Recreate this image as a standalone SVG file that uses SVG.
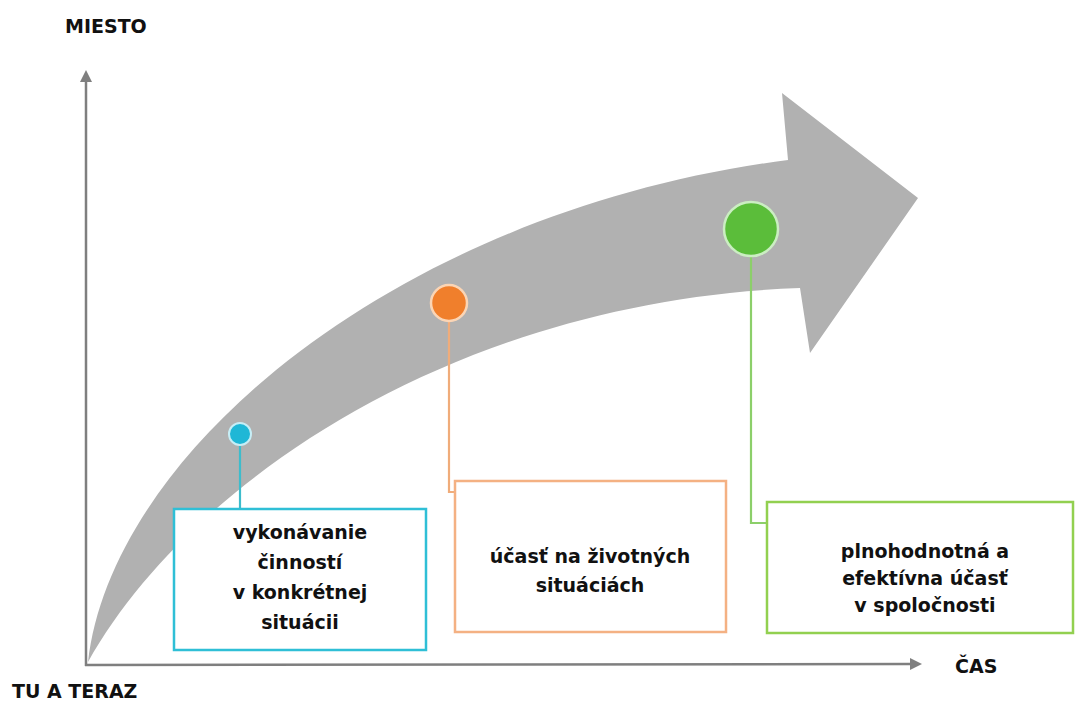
<svg xmlns="http://www.w3.org/2000/svg" width="1075" height="704" viewBox="0 0 1075 704">
<style>
.lbl{font-family:"DejaVu Sans",Verdana,sans-serif;font-weight:bold;font-size:19px;fill:#111;}
.ctr{text-anchor:middle;}
.axis{stroke:#7f7f7f;stroke-width:2.5;fill:none;}
.box{fill:#fff;stroke-width:2.5;}
.conn{fill:none;stroke-width:2.2;}
</style>
<defs>
<marker id="ah" markerWidth="12" markerHeight="12" viewBox="0 0 12 12" refX="2" refY="6" orient="auto" markerUnits="userSpaceOnUse">
<path d="M0,0 L12,6 L0,12 Z" fill="#7f7f7f"/>
</marker>
</defs>
<rect width="1075" height="704" fill="#fff"/>
<g id="big-arrow">
<path d="M88,662 C112,450 400,210 788,160 L782,93 L918,198 L810,353 L800,288 C460,300 190,480 88,662 Z" fill="#b1b1b1"/>
</g>
<g id="axes">
<line class="axis" x1="86" y1="666" x2="86" y2="80" marker-end="url(#ah)"/>
<line class="axis" x1="85" y1="665" x2="912" y2="664" marker-end="url(#ah)"/>
<text class="lbl" x="65" y="33">MIESTO</text>
<text class="lbl" x="955" y="673">ČAS</text>
<text class="lbl" x="12" y="698">TU A TERAZ</text>
</g>
<g id="connectors">
<line class="conn" x1="240" y1="446" x2="240" y2="509" stroke="#3dbccc"/>
<polyline class="conn" points="449,322 449,492 455,492" stroke="#f0ac7a"/>
<polyline class="conn" points="751,257 751,523 767,523" stroke="#8ccf6a"/>
</g>
<g id="node-1">
<circle cx="240" cy="434" r="11" fill="#1fb7d6" stroke="#c6eef6" stroke-width="2"/>
<rect class="box" x="174" y="509" width="252" height="141" stroke="#2fbfd6"/>
<text class="lbl ctr" x="300" y="539">vykonávanie</text>
<text class="lbl ctr" x="300" y="569">činností</text>
<text class="lbl ctr" x="300" y="599">v konkrétnej</text>
<text class="lbl ctr" x="300" y="629">situácii</text>
</g>
<g id="node-2">
<circle cx="449" cy="303" r="18" fill="#f07f2c" stroke="#fbd5b5" stroke-width="2.5"/>
<rect class="box" x="455" y="481" width="271" height="151" stroke="#f4b183" stroke-width="2"/>
<text class="lbl ctr" x="590" y="563">účasť na životných</text>
<text class="lbl ctr" x="590" y="592">situáciách</text>
</g>
<g id="node-3">
<circle cx="751" cy="229" r="27" fill="#5bbd3a" stroke="#cbeec2" stroke-width="2.5"/>
<rect class="box" x="767" y="502" width="306" height="131" stroke="#92d050"/>
<text class="lbl ctr" x="925" y="558">plnohodnotná a</text>
<text class="lbl ctr" x="925" y="585">efektívna účasť</text>
<text class="lbl ctr" x="925" y="612">v spoločnosti</text>
</g>
</svg>
